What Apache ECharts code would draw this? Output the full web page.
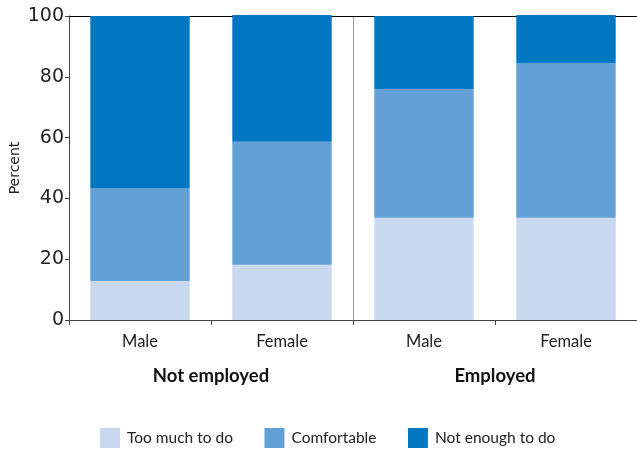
<!DOCTYPE html>
<html><head><meta charset="utf-8">
<script src="https://cdn.jsdelivr.net/npm/echarts@6/dist/echarts.min.js"></script>
<style>html,body{margin:0;padding:0;background:#fff}#c{width:637px;height:451px}</style>
</head><body><div id="c"></div>
<script>
const categories = ["Male", "Female", "Male", "Female"];
const groups = ["Not employed", "Employed"];
const seriesNames = ["Too much to do", "Comfortable", "Not enough to do"];
const tooMuch = [12.8, 18.2, 33.6, 33.6];
const comfortable = [30.6, 40.4, 42.4, 50.9];
const notEnough = [56.6, 41.7, 24.0, 15.8];
const colors = ["#c8d8ef", "#62a0d6", "#0077c0"];

const sansText = "Lato, 'Open Sans', sans-serif";
const chart = echarts.init(document.getElementById('c'), null, {renderer: 'canvas'});
const values = [tooMuch, comfortable, notEnough];

chart.setOption({
  animation: false,
  grid: {left: 69, right: 0, top: 16, bottom: 131, containLabel: false, outerBoundsMode: 'none'},
  legend: {
    left: 100, top: 428, padding: 0, itemWidth: 20, itemHeight: 20, itemGap: 31.5, icon: 'rect',
    textStyle: {fontFamily: sansText, fontSize: 15.5, color: '#222', padding: [0, 0, 0, 2]},
    data: seriesNames
  },
  xAxis: [
    {
      type: 'category', data: categories, position: 'bottom',
      axisLine: {lineStyle: {color: '#444', width: 1}},
      axisTick: {show: true, length: 5, interval: 0, lineStyle: {color: '#444'}},
      axisLabel: {fontFamily: sansText, fontSize: 16.5, color: '#222', margin: 13, interval: 0},
      splitLine: {show: false}
    },
    {
      type: 'category', data: groups, position: 'bottom', offset: 40,
      axisLine: {show: false}, axisTick: {show: false},
      axisLabel: {fontFamily: sansText, fontSize: 18.5, fontWeight: 'bold', color: '#111', margin: 7},
      splitLine: {show: true, showMinLine: false, showMaxLine: false, lineStyle: {color: '#999', width: 1}}
    },
    {
      type: 'category', data: categories, position: 'top',
      axisLine: {show: true, lineStyle: {color: '#000', width: 1}},
      axisTick: {show: false}, axisLabel: {show: false}, splitLine: {show: false}
    }
  ],
  yAxis: {
    type: 'value', min: 0, max: 100, interval: 20,
    name: 'Percent', nameLocation: 'middle', nameGap: 47, nameMoveOverlap: false,
    nameTextStyle: {fontFamily: "'DejaVu Sans', sans-serif", fontSize: 14, color: '#222'},
    axisLine: {show: true, lineStyle: {color: '#444', width: 1}},
    axisTick: {show: true, length: 4, lineStyle: {color: '#444'}},
    axisLabel: {fontFamily: "'DejaVu Sans', sans-serif", fontSize: 19, color: '#222', margin: 5},
    splitLine: {show: false}
  },
  series: seriesNames.map((name, i) => ({
    name: name, type: 'bar', stack: 'total', xAxisIndex: 0,
    data: values[i], barCategoryGap: '30%', clip: false,
    itemStyle: {color: colors[i]}
  }))
});
</script>
</body></html>
